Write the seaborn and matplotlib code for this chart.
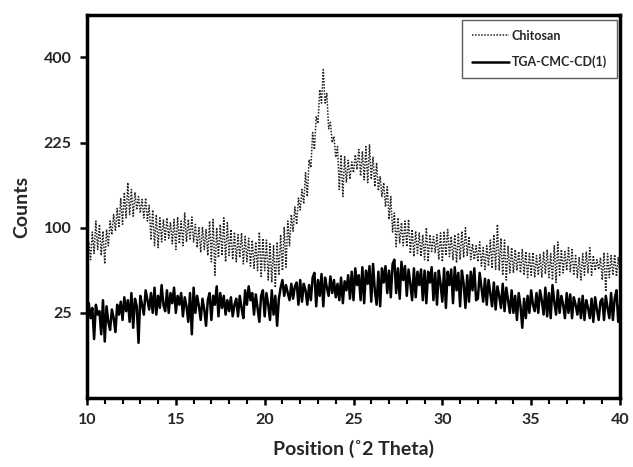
import numpy as np
import matplotlib
matplotlib.use("Agg")
import matplotlib.pyplot as plt
import seaborn as sns

# 2-theta positions (0.1 degree step, 10..40)
two_theta = [round(10 + 0.1 * i, 1) for i in range(301)]

chitosan = [
    70, 84, 66, 95, 72, 108, 76, 104, 70, 96,
    62, 98, 80, 108, 92, 116, 96, 124, 100, 138,
    104, 146, 112, 160, 116, 150, 114, 146, 122, 140,
    118, 136, 112, 138, 108, 128, 86, 122, 80, 116,
    78, 112, 84, 110, 86, 112, 88, 106, 82, 110,
    76, 113, 82, 108, 80, 118, 84, 110, 86, 113,
    84, 104, 78, 100, 73, 101, 76, 98, 70, 108,
    64, 110, 52, 100, 68, 104, 70, 112, 64, 106,
    70, 98, 66, 95, 64, 92, 68, 94, 62, 90,
    64, 88, 60, 86, 58, 84, 56, 95, 51, 88,
    56, 86, 48, 82, 46, 80, 42, 84, 52, 92,
    56, 101, 59, 108, 80, 116, 96, 126, 104, 138,
    122, 150, 130, 175, 140, 196, 183, 243, 213, 273,
    260, 328, 300, 372, 300, 320, 250, 262, 225, 236,
    200, 218, 150, 204, 140, 201, 160, 195, 165, 192,
    175, 204, 180, 213, 170, 210, 164, 218, 160, 221,
    165, 200, 154, 191, 148, 169, 140, 160, 126, 154,
    110, 140, 95, 118, 79, 112, 83, 106, 80, 108,
    79, 110, 72, 98, 69, 96, 72, 94, 69, 92,
    66, 100, 64, 92, 74, 90, 73, 92, 66, 94,
    64, 96, 70, 98, 69, 90, 66, 92, 63, 94,
    66, 96, 68, 100, 70, 90, 66, 82, 66, 80,
    64, 84, 60, 78, 57, 80, 60, 86, 58, 92,
    57, 104, 56, 88, 52, 86, 48, 80, 54, 78,
    54, 76, 56, 74, 54, 76, 52, 74, 50, 72,
    52, 73, 50, 70, 52, 71, 50, 74, 53, 76,
    50, 72, 48, 80, 46, 84, 52, 76, 54, 74,
    56, 78, 55, 76, 52, 70, 50, 68, 48, 72,
    52, 74, 54, 78, 52, 70, 56, 66, 57, 68,
    48, 73, 39, 72, 50, 70, 52, 71, 51, 68,
    54,
]

tga_cmc_cd = [
    25, 31, 22, 28, 12, 30, 24, 26, 14, 33,
    11, 29, 20, 16, 27, 22, 15, 30, 24, 32,
    21, 35, 26, 33, 20, 38, 17, 34, 29, 10.5,
    36, 30, 24, 40, 33, 27, 38, 25, 42, 24,
    36, 28, 44, 30, 26, 40, 25, 38, 31, 42,
    25, 36, 30, 38, 23, 35, 29, 20, 38, 14,
    42, 25, 36, 29, 21, 34, 27, 18, 33, 38,
    21, 36, 30, 43, 23, 38, 28, 36, 24, 33,
    26, 35, 23, 30, 34, 23, 36, 28, 22, 40,
    30, 43, 33, 38, 24, 37, 28, 20, 36, 40,
    23, 38, 30, 21, 40, 24, 36, 18, 34, 42,
    48, 36, 44, 38, 33, 45, 34, 43, 46, 30,
    48, 32, 45, 40, 30, 44, 33, 50, 54, 29,
    48, 36, 53, 29, 50, 42, 36, 51, 38, 48,
    35, 45, 33, 50, 31, 47, 40, 52, 34, 55,
    33, 58, 44, 52, 33, 59, 31, 56, 45, 60,
    32, 62, 40, 30, 55, 29, 58, 46, 60, 38,
    56, 35, 62, 66, 38, 58, 34, 64, 48, 60,
    36, 57, 45, 33, 58, 35, 55, 44, 57, 33,
    56, 31, 55, 46, 59, 33, 54, 30, 56, 45,
    32, 58, 28, 55, 44, 57, 31, 59, 40, 54,
    29, 56, 45, 28, 52, 32, 55, 40, 58, 33,
    34, 54, 42, 32, 49, 30, 48, 38, 29, 46,
    27, 43, 36, 28, 45, 26, 42, 33, 25, 40,
    25, 36, 21, 38, 29, 17, 34, 22, 36, 25,
    40, 30, 26, 38, 25, 40, 33, 24, 42, 23,
    38, 22, 44, 32, 24, 40, 25, 36, 30, 22,
    38, 25, 37, 22, 35, 30, 24, 34, 22, 36,
    21, 33, 28, 22, 34, 20, 35, 27, 21, 32,
    34, 21, 36, 28, 22, 38, 21, 34, 40, 20,
    30,
]

series_names = ["Chitosan", "TGA-CMC-CD(1)"]
y_ticks = [25, 100, 225, 400]
x_ticks = [10, 15, 20, 25, 30, 35, 40]

sns.set_style("white")
plt.rcParams["font.family"] = ["Lato", "DejaVu Sans"]

fig = plt.figure(figsize=(6.33, 4.67), dpi=100)
ax = fig.add_axes([87 / 633, 69 / 467, 533 / 633, 383 / 467])

sns.lineplot(x=two_theta, y=chitosan, ax=ax, color="#222222",
             linewidth=1.1, linestyle=(0, (1, 1)), label=series_names[0])
sns.lineplot(x=two_theta, y=tga_cmc_cd, ax=ax, color="black",
             linewidth=1.8, label=series_names[1])

ax.set_yscale("function",
              functions=(lambda v: np.sqrt(np.clip(v, 0, None)), np.square))
ax.set_ylim(0, 506)
ax.set_xlim(10, 40)
ax.set_yticks(y_ticks)
ax.set_yticklabels([str(t) for t in y_ticks])
ax.yaxis.set_minor_locator(matplotlib.ticker.NullLocator())
ax.set_xticks(x_ticks)
ax.set_xticks(np.arange(10, 41, 1), minor=True)

for s in ax.spines.values():
    s.set_linewidth(2.5)
    s.set_color("black")

ax.tick_params(axis="both", which="major", direction="out", length=5,
               width=1.8, color="black", labelsize=11.5, pad=6)
ax.tick_params(axis="x", which="minor", direction="out", length=4,
               width=1.5, color="black", bottom=True)
ax.tick_params(axis="x", which="major", bottom=True)
ax.tick_params(axis="y", which="major", left=True)
for lab in ax.get_xticklabels() + ax.get_yticklabels():
    lab.set_fontweight("bold")

ax.set_xlabel("Position (\u02da2 Theta)", fontsize=14, fontweight="bold",
              labelpad=9)
ax.set_ylabel("Counts", fontsize=14, fontweight="bold", labelpad=10)

leg = ax.legend(loc="upper right", bbox_to_anchor=(0.994, 0.988),
                borderaxespad=0, frameon=True, fancybox=False,
                handlelength=3.0, handletextpad=0.2, labelspacing=1.1,
                borderpad=0.8, prop={"weight": "bold", "size": 9})
leg.get_frame().set_edgecolor("#333333")
leg.get_frame().set_linewidth(1.0)

fig.savefig("out.png", dpi=100)
